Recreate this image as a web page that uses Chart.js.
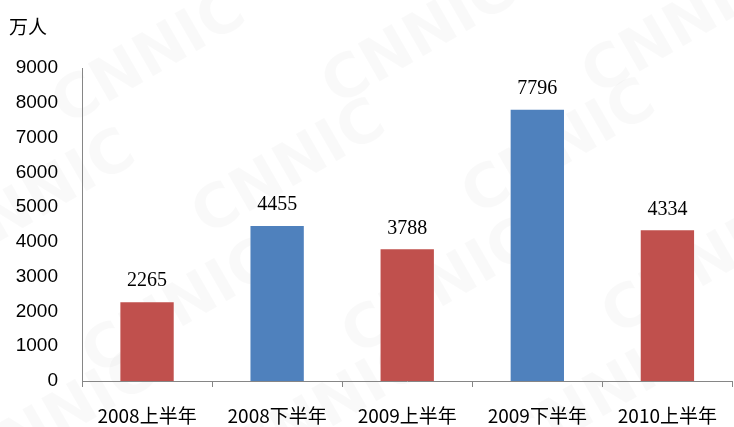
<!DOCTYPE html>
<html>
<head>
<meta charset="utf-8">
<script src="https://cdn.jsdelivr.net/npm/chart.js@4/dist/chart.umd.min.js"></script>
<style>
  html, body { margin: 0; padding: 0; background: #fff; }
  #wrap { position: relative; width: 734px; height: 427px; }
  #unit { position: absolute; left: 9px; top: 12px; font: 19px "Noto Sans CJK SC", serif; color: #000; }
</style>
</head>
<body>
<div id="wrap">
  <canvas id="c" width="734" height="427"></canvas>
  <div id="unit">万人</div>
</div>
<script>
// chart data
var categories = ['2008上半年', '2008下半年', '2009上半年', '2009下半年', '2010上半年'];
var values = [2265, 4455, 3788, 7796, 4334];
var barColors = ['#C0504D', '#4F81BD', '#C0504D', '#4F81BD', '#C0504D'];
var yTicks = [0, 1000, 2000, 3000, 4000, 5000, 6000, 7000, 8000, 9000];

// faint CNNIC watermark behind the bars
var watermark = {
  id: 'watermark',
  beforeDraw: function(chart){
    var ctx = chart.ctx;
    ctx.save();
    ctx.fillStyle = 'rgba(0,0,0,0.025)';
    ctx.font = 'bold 60px "DejaVu Sans"';
    var spots = [[150,60],[420,40],[680,30],[40,200],[290,170],[560,150],[180,310],[440,290],[700,270],[60,420],[330,410],[600,400]];
    spots.forEach(function(p){
      ctx.save();
      ctx.translate(p[0], p[1]);
      ctx.rotate(-Math.PI/6);
      ctx.textAlign = 'center';
      ctx.textBaseline = 'middle';
      ctx.fillText('CNNIC', 0, 0);
      ctx.restore();
    });
    ctx.restore();
  }
};

// value labels above each bar
var barLabels = {
  id: 'barLabels',
  afterDatasetsDraw: function(chart){
    var ctx = chart.ctx;
    var meta = chart.getDatasetMeta(0);
    ctx.save();
    ctx.font = '20px "Liberation Serif"';
    ctx.fillStyle = '#000';
    ctx.textAlign = 'center';
    ctx.textBaseline = 'middle';
    meta.data.forEach(function(bar, i){
      ctx.fillText(String(values[i]), bar.x, bar.y - 21);
    });
    ctx.restore();
  }
};

new Chart(document.getElementById('c'), {
  type: 'bar',
  data: {
    labels: categories,
    datasets: [{
      data: values,
      backgroundColor: barColors,
      borderWidth: 0,
      barPercentage: 0.41,
      categoryPercentage: 1
    }]
  },
  options: {
    responsive: false,
    animation: false,
    layout: { padding: { top: 68, right: 0, bottom: 0, left: 0 } },
    plugins: { legend: { display: false }, tooltip: { enabled: false } },
    scales: {
      x: {
        afterFit: function(axis){ axis.height = 46; },
        grid: { display: true, drawOnChartArea: false, tickLength: 6, color: '#868686' },
        border: { color: '#868686', width: 1 },
        ticks: { color: '#000', font: { family: '"Noto Sans CJK SC"', size: 19 }, padding: 17, maxRotation: 0 }
      },
      y: {
        min: 0,
        max: 9000,
        afterBuildTicks: function(axis){ axis.ticks = yTicks.map(function(v){ return { value: v }; }); },
        afterFit: function(axis){ axis.width = 82; },
        grid: { display: false },
        border: { color: '#868686', width: 1 },
        ticks: {
          color: '#000', font: { family: '"Liberation Sans"', size: 19 }, padding: 16,
          callback: function(v){ return String(v); }
        }
      }
    }
  },
  plugins: [watermark, barLabels]
});
</script>
</body>
</html>
